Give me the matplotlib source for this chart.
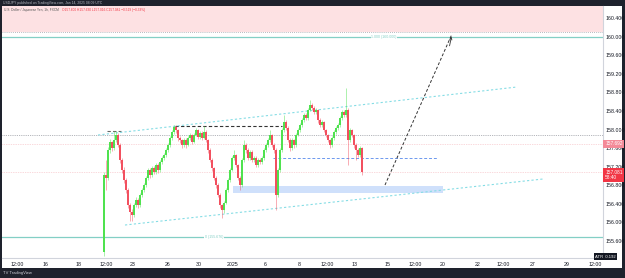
import matplotlib
matplotlib.use("Agg")
import matplotlib.pyplot as plt
import matplotlib.patches as patches

plt.rcParams['font.family'] = ['Liberation Sans', 'DejaVu Sans']

# USD/JPY 1h candles
first_open = 155.351
closes = [157.016, 156.951, 157.557, 157.730, 157.600, 157.773, 157.881, 157.665, 157.341, 157.124,
          156.908, 156.692, 156.368, 156.216, 156.151, 156.368, 156.476, 156.368, 156.584, 156.692,
          156.800, 156.951, 157.124, 157.016, 157.168, 157.081, 157.232, 157.124, 157.297, 157.384,
          157.449, 157.557, 157.665, 157.816, 157.946, 158.054, 157.989, 157.816, 157.773, 157.665,
          157.773, 157.665, 157.816, 157.881, 157.730, 157.881, 157.989, 157.838, 157.924, 157.816,
          157.946, 157.773, 157.557, 157.341, 157.168, 156.951, 156.800, 156.584, 156.368, 156.259,
          156.411, 156.692, 156.908, 157.124, 157.384, 157.449, 157.232, 156.951, 156.800, 157.341,
          157.665, 157.557, 157.384, 157.514, 157.341, 157.384, 157.232, 157.341, 157.297, 157.384,
          157.557, 157.665, 157.773, 157.881, 157.665, 157.557, 156.584, 157.124, 157.557, 157.989,
          158.162, 158.032, 157.773, 157.600, 157.773, 157.665, 157.881, 157.989, 158.097, 158.205,
          158.314, 158.249, 158.422, 158.530, 158.465, 158.378, 158.422, 158.205, 158.097, 158.162,
          157.989, 157.881, 157.773, 157.665, 157.816, 157.946, 158.032, 158.097, 158.249, 158.378,
          158.314, 158.422, 157.773, 157.989, 157.881, 157.665, 157.557, 157.449, 157.600, 157.081]
highs = [157.080, 157.341, 157.620, 157.790, 157.760, 157.968, 157.968, 157.920, 157.700, 157.380,
         157.180, 156.950, 156.740, 156.420, 156.280, 156.420, 156.530, 156.510, 156.630, 156.740,
         156.850, 157.000, 157.170, 157.160, 157.220, 157.210, 157.280, 157.270, 157.340, 157.430,
         157.500, 157.600, 157.710, 157.860, 157.990, 158.100, 158.090, 158.020, 157.860, 157.800,
         157.820, 157.810, 157.860, 157.930, 157.910, 157.920, 158.030, 158.020, 157.970, 157.960,
         158.076, 157.980, 157.800, 157.590, 157.380, 157.200, 156.990, 156.840, 156.620, 156.400,
         156.460, 156.740, 156.950, 157.170, 157.430, 157.557, 157.480, 157.260, 156.990, 157.380,
         157.773, 157.700, 157.590, 157.560, 157.550, 157.430, 157.420, 157.380, 157.390, 157.430,
         157.600, 157.710, 157.820, 157.990, 157.910, 157.700, 157.590, 157.170, 157.600, 158.030,
         158.314, 158.200, 158.070, 157.810, 157.820, 157.800, 157.920, 158.030, 158.140, 158.250,
         158.360, 158.350, 158.470, 158.638, 158.570, 158.500, 158.470, 158.450, 158.240, 158.210,
         158.190, 158.020, 157.910, 157.800, 157.860, 157.990, 158.080, 158.140, 158.290, 158.420,
         158.420, 158.897, 158.460, 158.030, 158.020, 157.910, 157.700, 157.590, 157.640, 157.630]
lows = [155.265, 156.692, 156.900, 157.500, 157.540, 157.560, 157.720, 157.620, 157.280, 157.050,
        156.850, 156.620, 156.300, 156.020, 156.020, 156.100, 156.320, 156.300, 156.330, 156.540,
        156.650, 156.760, 156.900, 156.960, 156.980, 157.030, 157.040, 157.070, 157.090, 157.250,
        157.340, 157.410, 157.520, 157.630, 157.780, 157.900, 157.930, 157.760, 157.700, 157.600,
        157.630, 157.610, 157.640, 157.780, 157.680, 157.700, 157.850, 157.790, 157.800, 157.770,
        157.790, 157.720, 157.500, 157.290, 157.110, 156.900, 156.740, 156.530, 156.300, 156.086,
        156.200, 156.380, 156.650, 156.870, 157.100, 157.340, 157.180, 156.900, 156.700, 156.760,
        157.300, 157.500, 157.330, 157.340, 157.290, 157.300, 157.180, 157.190, 157.250, 157.260,
        157.350, 157.520, 157.630, 157.740, 157.620, 157.500, 156.259, 156.540, 157.090, 157.520,
        157.950, 157.980, 157.720, 157.540, 157.560, 157.610, 157.630, 157.850, 157.950, 158.060,
        158.170, 158.200, 158.210, 158.390, 158.420, 158.330, 158.340, 158.150, 158.050, 158.060,
        157.940, 157.830, 157.720, 157.600, 157.630, 157.780, 157.910, 158.000, 158.060, 158.210,
        158.270, 158.280, 157.232, 157.730, 157.830, 157.610, 157.341, 157.400, 157.410, 157.016]
opens = [first_open] + closes[:-1]

# time axis labels (positions in candle index units)
tick_pos = [-43.5, -29.5, -12.5, 1, 14.5, 32, 47.5, 64.5, 80.5, 97.5,
            111.5, 125.5, 142, 155.5, 169.5, 187, 199.5, 214.5, 231.5, 245.5]
tick_lab = ['12:00', '16', '18', '12:00', '23', '26', '30', '2025', '6', '8',
            '12:00', '13', '15', '12:00', '20', '22', '12:00', '27', '29', '12:00']
price_ticks = [155.6, 156.0, 156.4, 156.8, 157.2, 157.6, 158.0, 158.4, 158.8, 159.2, 159.6, 160.0, 160.4]

# drawn levels
supply_low = 160.108
target = 160.000
fib_low = 155.676
dotted_level = 157.881
day_high = 157.692
blue_level = 157.384
zone = (156.627, 156.778)
chan_up = ([-3, 206.5], [157.881, 158.919])
chan_dn = ([10.5, 219.5], [155.935, 156.930])
path = ([140.5, 174], [156.800, 160.065])

up_c, dn_c = '#4fe24f', '#f2505f'

fig = plt.figure(figsize=(6.25, 2.78), dpi=100, facecolor='#1e222d')
fig.patches.append(patches.Rectangle((2/625, 10/278), 620/625, 262/278, transform=fig.transFigure,
                                     facecolor='white', edgecolor='none', zorder=-5))
ax = fig.add_axes([2/625, 20/278, 601/625, 252/278])
ax.set_zorder(2)
ax.set_xlim(-51, 249.5)
ax.set_ylim(155.222, 160.670)

ax.axhspan(supply_low, 160.670, color='#fde1e3', lw=0, zorder=0)
ax.axhline(supply_low, color='#a0a3ab', lw=0.6, ls=(0, (1, 1.5)))
ax.axhline(target, color='#83cfc5', lw=0.9)
ax.text(140, target, '1.000 (160.000)', color='#83cfc5', fontsize=2.6, ha='center', va='center',
        bbox=dict(facecolor='white', edgecolor='none', pad=0.3))
ax.axhline(fib_low, color='#83cfc5', lw=0.9)
ax.text(55, fib_low, '0 (155.676)', color='#83cfc5', fontsize=2.6, ha='center', va='center',
        bbox=dict(facecolor='white', edgecolor='none', pad=0.3))
ax.axhline(dotted_level, color='#9a9ca3', lw=0.6, ls=(0, (1, 1.2)))
ax.axhline(day_high, color='#f5b3ba', lw=0.5, ls=(0, (1, 1.5)))
ax.axhline(closes[-1], color='#f5b3ba', lw=0.5, ls=(0, (1, 1.5)))

ax.add_patch(patches.Rectangle((64.5, zone[0]), 105, zone[1] - zone[0], facecolor='#cfe0fb',
                               edgecolor='none', zorder=1))
ax.plot([84.5, 166.5], [blue_level, blue_level], color='#6c98ee', lw=0.7, ls=(0, (3, 2)))
ax.plot([1.5, 8.5], [157.968, 157.968], color='#666666', lw=0.8, ls=(0, (3, 2)))
ax.plot([35.5, 89], [158.076, 158.076], color='#333333', lw=0.8, ls=(0, (3, 2)))
ax.plot(*chan_up, color='#86dde5', lw=0.8, ls=(0, (2, 2)))
ax.plot(*chan_dn, color='#86dde5', lw=0.8, ls=(0, (2, 2)))
ax.plot(*path, color='#333333', lw=0.7, ls=(0, (3, 2)))
ax.annotate('', xy=(path[0][1], path[1][1]), xytext=(172.5, 159.75),
            arrowprops=dict(arrowstyle='->', color='#333333', lw=0.6, mutation_scale=4))

# candles
for i in range(len(closes)):
    o, c, h, l = opens[i], closes[i], highs[i], lows[i]
    col = up_c if c >= o else dn_c
    ax.vlines(i, l, h, color=col, lw=0.6, alpha=0.55, zorder=3)
    ax.bar(i, max(abs(c - o), 0.01), bottom=min(o, c), width=0.8, color=col, lw=0, zorder=4)

# axes styling
for s in ['top', 'left']:
    ax.spines[s].set_visible(False)
for s in ['right', 'bottom']:
    ax.spines[s].set_color('#d1d4dc')
    ax.spines[s].set_linewidth(0.8)
ax.yaxis.tick_right()
ax.set_yticks(price_ticks)
ax.set_yticklabels(['%.3f' % p for p in price_ticks])
ax.set_xticks(tick_pos)
ax.set_xticklabels(tick_lab)
ax.tick_params(axis='both', length=0, labelsize=3.8, colors='#131722')
ax.tick_params(axis='y', pad=2)
ax.tick_params(axis='x', pad=3)

# price labels on the scale
ax.annotate('%.3f' % day_high, xy=(1.0, day_high), xycoords=('axes fraction', 'data'),
            xytext=(1.5, 0), textcoords='offset points', fontsize=3.4, color='white', va='center',
            bbox=dict(boxstyle='square,pad=0.35', facecolor='#f48a98', edgecolor='none'))
ax.annotate('%.3f\n58:40' % closes[-1], xy=(1.0, closes[-1]), xycoords=('axes fraction', 'data'),
            xytext=(1.5, -2), textcoords='offset points', fontsize=3.4, color='white', va='center',
            linespacing=1.1, bbox=dict(boxstyle='square,pad=0.35', facecolor='#f23645', edgecolor='none'))

fig.text(616/625, 21.5/278, 'ATR  0.192', fontsize=3, color='white', ha='right', va='center',
         bbox=dict(boxstyle='square,pad=0.3', facecolor='#131722', edgecolor='none'), zorder=5)

fig.text(3/625, 275/278, 'USDJPY published on TradingView.com, Jan 14, 2025 08:09 UTC',
         fontsize=2.4, color='#b2b5be', va='center')
legend_txt = fig.text(4/625, 268.5/278, 'U.S. Dollar / Japanese Yen, 1h, FXCM', fontsize=2.3,
                      color='#555555', va='center', zorder=5)
fig.add_artist(matplotlib.text.Annotation(
    'O157.600 H157.630 L157.016 C157.081 \u22120.519 (\u22120.33%)', xy=(1, 0.5),
    xycoords=legend_txt, xytext=(2, 0), textcoords='offset points', fontsize=2.3,
    color='#f23645', va='center', zorder=5))
fig.text(3/625, 5/278, 'TV TradingView', fontsize=3, color='#d1d4dc', va='center')

fig.savefig('out.png', dpi=100, facecolor=fig.get_facecolor())
